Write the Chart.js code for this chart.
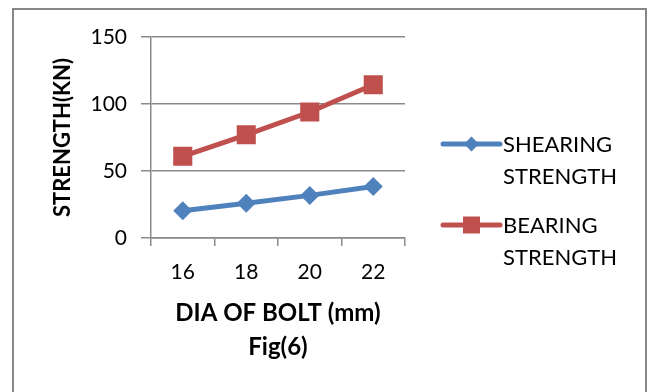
<!DOCTYPE html>
<html>
<head>
<meta charset="utf-8">
<script src="https://cdn.jsdelivr.net/npm/chart.js@4"></script>
<style>
  html, body { margin: 0; padding: 0; background: #fff; }
  #wrap { position: relative; width: 649px; height: 392px; overflow: hidden; }
  #frame { position: absolute; left: 12px; top: 8px; width: 631px; height: 400px; border: 2px solid #868686; border-bottom: none; }
  canvas { position: absolute; left: 0; top: 0; }
</style>
</head>
<body>
<div id="wrap">
  <div id="frame"></div>
  <canvas id="c" width="649" height="392"></canvas>
</div>
<script>
const categories = ['16', '18', '20', '22'];
const shearingStrength = [20.4, 26, 31.8, 38.5];
const bearingStrength = [61, 77, 94, 114.4];
const seriesNames = ['SHEARING STRENGTH', 'BEARING STRENGTH'];
const yTicks = [0, 50, 100, 150];
const xTitle = ['DIA OF BOLT (mm)', 'Fig(6)'];
const yTitle = 'STRENGTH(KN)';

const BLUE = '#4F81BD';
const RED = '#C0504D';
const GRID = '#8a8a8a';
const FONT = 'Lato';

const legendPlugin = {
  id: 'sideLegend',
  afterDraw(chart) {
    const ctx = chart.ctx;
    const items = chart.data.datasets;
    const x0 = 443, x1 = 500, tx = 503;
    const rows = [144, 225];
    const lh = 31.7;
    ctx.save();
    items.forEach((ds, i) => {
      const y = rows[i];
      ctx.strokeStyle = ds.borderColor;
      ctx.lineWidth = 5;
      ctx.lineCap = 'round';
      ctx.beginPath();
      ctx.moveTo(x0, y);
      ctx.lineTo(x1, y);
      ctx.stroke();
      ctx.fillStyle = ds.borderColor;
      const mx = (x0 + x1) / 2;
      if (ds.pointStyle === 'rectRot') {
        const r = 7.5;
        ctx.beginPath();
        ctx.moveTo(mx, y - r); ctx.lineTo(mx + r, y); ctx.lineTo(mx, y + r); ctx.lineTo(mx - r, y);
        ctx.closePath(); ctx.fill();
      } else {
        const s = 17;
        ctx.fillRect(mx - s / 2, y - s / 2, s, s);
      }
      ctx.fillStyle = '#000';
      ctx.font = '22px ' + FONT;
      ctx.textBaseline = 'middle';
      ctx.textAlign = 'left';
      ds.label.split(' ').forEach((w, k) => ctx.fillText(w, tx, y + 1 + k * lh));
    });
    ctx.restore();
  }
};

new Chart(document.getElementById('c'), {
  type: 'line',
  data: {
    labels: categories,
    datasets: [
      {
        label: seriesNames[0], data: shearingStrength,
        borderColor: BLUE, backgroundColor: BLUE, borderWidth: 5,
        pointStyle: 'rectRot', pointRadius: 9.5, pointHoverRadius: 9.5,
        pointBorderWidth: 0, tension: 0
      },
      {
        label: seriesNames[1], data: bearingStrength,
        borderColor: RED, backgroundColor: RED, borderWidth: 5,
        pointStyle: 'rect', pointRadius: 13.5, pointHoverRadius: 13.5,
        pointBorderWidth: 0, tension: 0
      }
    ]
  },
  options: {
    responsive: false,
    animation: false,
    devicePixelRatio: 1,
    layout: { padding: { left: 0, top: 37, right: 244, bottom: 0 } },
    plugins: { legend: { display: false }, tooltip: { enabled: false } },
    scales: {
      x: {
        offset: true,
        grid: { display: true, drawOnChartArea: false, drawTicks: true, tickLength: 8, offset: true, color: GRID, lineWidth: 1.5 },
        border: { display: true, color: GRID, width: 1.5 },
        ticks: { color: '#000', font: { family: FONT, size: 21 }, padding: 14, maxRotation: 0 },
        title: { display: true, text: xTitle, color: '#000', font: { family: FONT, size: 24, weight: 'bold', lineHeight: 1.4 }, padding: { top: 0, bottom: 28 } },
        afterFit(scale) { scale.height = 154; }
      },
      y: {
        min: 0, max: 150,
        afterBuildTicks(scale) { scale.ticks = yTicks.map(v => ({ value: v })); },
        grid: { color: GRID, lineWidth: 1.5, tickLength: 10, drawTicks: true },
        border: { display: true, color: GRID, width: 1.5 },
        ticks: { color: '#000', font: { family: FONT, size: 21 }, padding: 14 },
        title: { display: true, text: yTitle, color: '#000', font: { family: FONT, size: 22, weight: 'bold', lineHeight: 1.2 }, padding: { top: 50, bottom: 0 } },
        afterFit(scale) { scale.width = 151; }
      }
    }
  },
  plugins: [legendPlugin]
});
</script>
</body>
</html>
